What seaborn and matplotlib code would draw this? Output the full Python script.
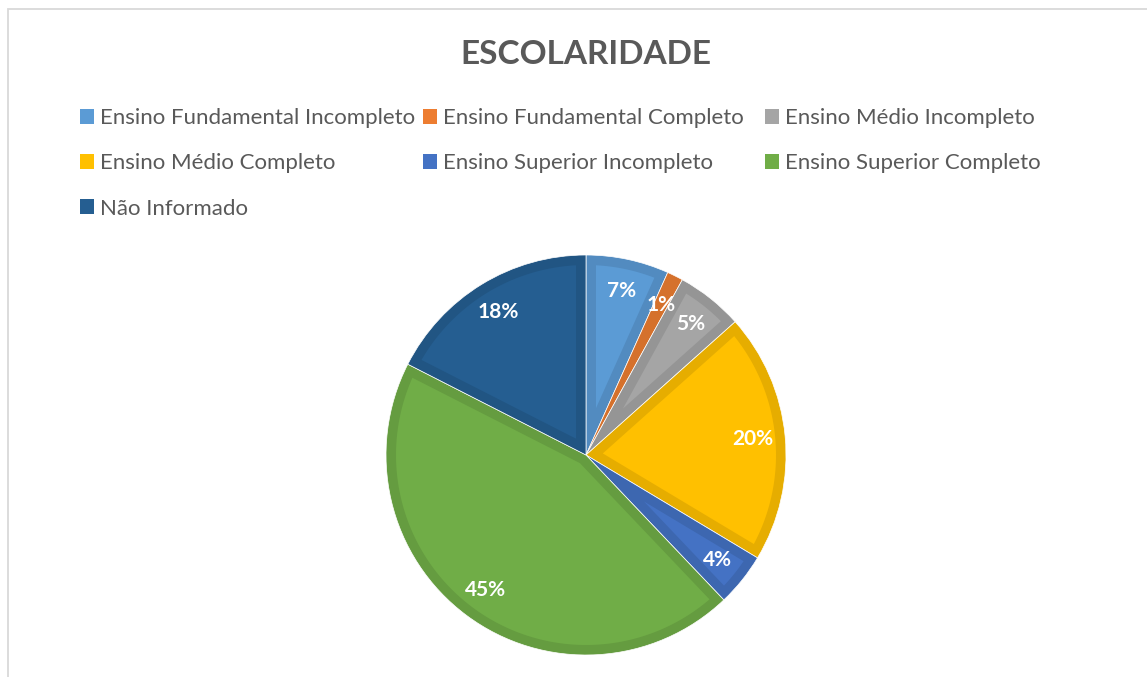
import numpy as np
import seaborn as sns
import matplotlib.pyplot as plt
from matplotlib.patches import Rectangle, Patch, Polygon
from matplotlib.colors import to_rgb

categories = [
    "Ensino Fundamental Incompleto",
    "Ensino Fundamental Completo",
    "Ensino Médio Incompleto",
    "Ensino Médio Completo",
    "Ensino Superior Incompleto",
    "Ensino Superior Completo",
    "Não Informado",
]
shares = [6.7, 1.3, 5.4, 20.2, 4.3, 44.6, 17.5]
colors = ["#5B9BD5", "#ED7D31", "#A5A5A5", "#FFC000", "#4472C4", "#70AD47", "#255E91"]

sns.set_theme(style="white")
plt.rcParams["font.family"] = ["Lato", "DejaVu Sans"]

palette = sns.color_palette(colors)
dark = [tuple(c * 0.9 for c in to_rgb(col)) for col in colors]

W, H = 1147, 677
fig = plt.figure(figsize=(W / 100, H / 100), dpi=100)

# chart frame (right/bottom edges fall outside the image)
fig.add_artist(Rectangle((8 / W, -0.1), 1.2, 1 - 9 / H + 0.1, transform=fig.transFigure,
                         fill=False, edgecolor="#D9D9D9", linewidth=1.3))

cx, cy, r = 586, 455, 200
ax = fig.add_axes([(cx - r) / W, (H - cy - r) / H, 2 * r / W, 2 * r / H])
wedges, _, autotexts = ax.pie(
    shares, colors=dark, startangle=90, counterclock=False,
    autopct="%1.0f%%", pctdistance=0.84,
    wedgeprops=dict(edgecolor="white", linewidth=0.5),
    textprops=dict(color="white", fontsize=15, fontweight="bold", zorder=5),
)

# lighter inner face of each slice, inset from the darker rim
d = 0.05
for w, col in zip(wedges, palette):
    t1, t2 = np.deg2rad(sorted([w.theta1, w.theta2]))
    half = (t2 - t1) / 2
    R = w.r
    apex = d / np.sin(half)
    if apex >= R - d:
        continue
    mid = (t1 + t2) / 2
    off = np.arcsin(d / (R - d))
    arc = np.linspace(t1 + off, t2 - off, 120)
    pts = [(apex * np.cos(mid), apex * np.sin(mid))]
    pts += list(zip((R - d) * np.cos(arc), (R - d) * np.sin(arc)))
    ax.add_patch(Polygon(pts, closed=True, facecolor=col, edgecolor="none", zorder=2))

ax.set_xlim(-1, 1)
ax.set_ylim(-1, 1)

fig.text(cx / W, 1 - 55 / H, "ESCOLARIDADE", ha="center", va="center",
         fontsize=24, fontweight="bold", color="#595959")

# legend laid out in three equal columns, filled row by row
cols = [[0, 3, 6], [1, 4], [2, 5]]
xs = [80, 423, 765]
for x, idx in zip(xs, cols):
    handles = [Patch(facecolor=colors[i], edgecolor="none") for i in idx]
    fig.legend(handles, [categories[i] for i in idx], loc="upper left",
               bbox_to_anchor=(x / W, 1 - 108 / H), frameon=False,
               fontsize=16, labelcolor="#595959", handlelength=0.65,
               handleheight=0.65, handletextpad=0.25, labelspacing=1.14,
               borderaxespad=0, borderpad=0)

fig.savefig("out.png", dpi=100, facecolor="white")
